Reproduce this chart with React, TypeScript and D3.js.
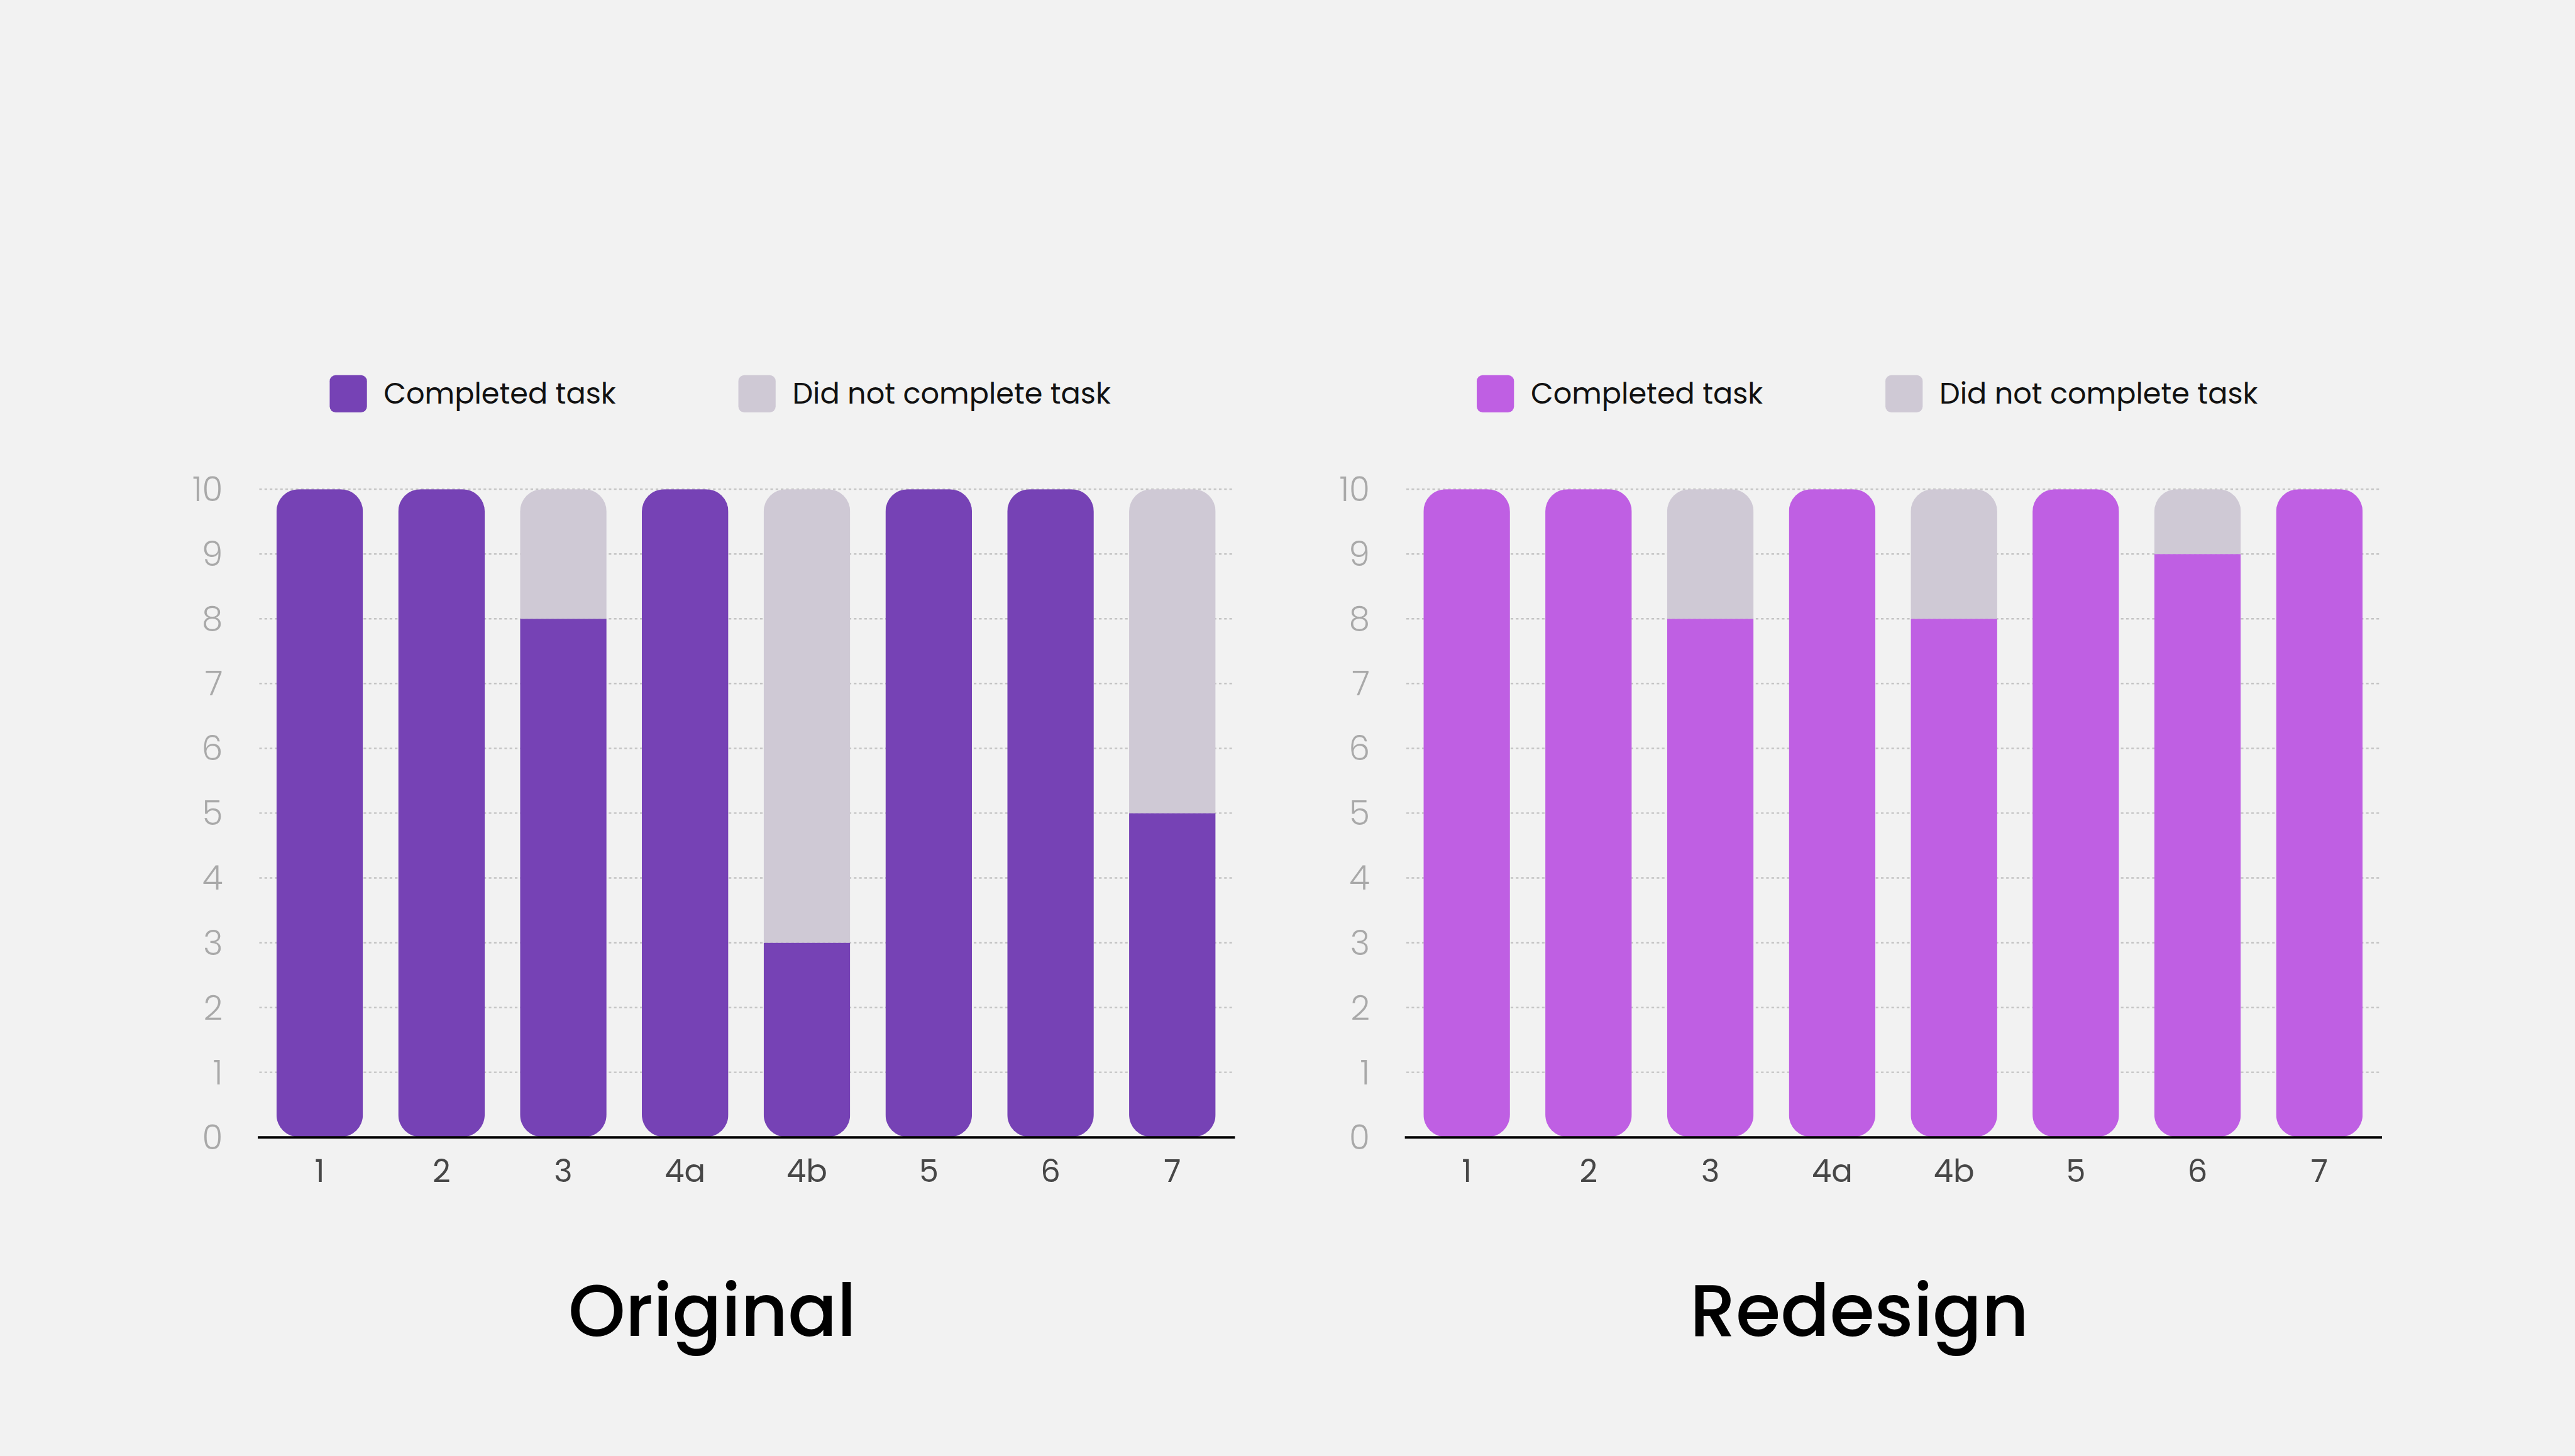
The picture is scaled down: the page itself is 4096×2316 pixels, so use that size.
import React, { useEffect, useRef } from 'react';
import * as d3 from 'd3';

const tasks = ['1', '2', '3', '4a', '4b', '5', '6', '7'];
const originalCompleted = [10, 10, 8, 10, 3, 10, 10, 5];
const originalNotCompleted = [0, 0, 2, 0, 7, 0, 0, 5];
const redesignCompleted = [10, 10, 8, 10, 8, 10, 9, 10];
const redesignNotCompleted = [0, 0, 2, 0, 2, 0, 1, 0];
const yTicks = [0, 1, 2, 3, 4, 5, 6, 7, 8, 9, 10];
const legendLabels = ['Completed task', 'Did not complete task'];

const GRAY = '#cfc9d5';
const FONT = "Poppins, 'Open Sans', sans-serif";

const panels = [
  { title: 'Original', completed: originalCompleted, notCompleted: originalNotCompleted, color: '#7642b5', left: 692 },
  { title: 'Redesign', completed: redesignCompleted, notCompleted: redesignNotCompleted, color: '#bf5fe3', left: 3771 },
];

const App = () => {
  const svgRef = useRef<SVGSVGElement>(null);

  useEffect(() => {
    renderChart();
  }, []);

  const renderChart = () => {
    const W = 6912;
    const H = 3908;
    const plotWidth = 2621;

    const svg = d3.select(svgRef.current);
    svg.selectAll('*').remove();
    svg.attr('viewBox', `0 0 ${W} ${H}`);

    svg.append('rect')
      .attr('width', W)
      .attr('height', H)
      .attr('fill', '#f2f2f2');

    const defs = svg.append('defs');

    panels.forEach((p, pi) => {
      const g = svg.append('g');

      const x = d3.scaleBand()
        .domain(tasks)
        .range([p.left, p.left + plotWidth])
        .paddingInner(0.29)
        .paddingOuter(0.153);

      const y = d3.scaleLinear()
        .domain([0, 10])
        .range([3052, 1313]);

      // dotted grid
      g.selectAll('.grid')
        .data(yTicks.filter(t => t > 0))
        .enter().append('line')
        .attr('x1', p.left + 4)
        .attr('x2', p.left + plotWidth)
        .attr('y1', d => y(d))
        .attr('y2', d => y(d))
        .attr('stroke', '#c4c4c4')
        .attr('stroke-width', 4)
        .attr('stroke-dasharray', '7 7');

      // y labels
      g.selectAll('.ylabel')
        .data(yTicks)
        .enter().append('text')
        .attr('x', p.left - 94)
        .attr('y', d => y(d))
        .attr('dy', '0.357em')
        .attr('text-anchor', 'end')
        .style('font-family', FONT)
        .style('font-size', '90px')
        .style('font-weight', 300)
        .attr('fill', '#a9a9a9')
        .text(d => d);

      // stacked bars
      const rows = tasks.map((t, i) => ({ task: t, done: p.completed[i], notDone: p.notCompleted[i] }));
      const series = d3.stack<any>().keys(['done', 'notDone'])(rows);
      const colors = [p.color, GRAY];

      rows.forEach((r, i) => {
        const total = r.done + r.notDone;
        defs.append('clipPath')
          .attr('id', `clip-${pi}-${i}`)
          .append('rect')
          .attr('x', x(r.task))
          .attr('y', y(total))
          .attr('width', x.bandwidth())
          .attr('height', y(0) - y(total))
          .attr('rx', 60);
      });

      series.forEach((s, si) => {
        g.selectAll(`.bar-${si}`)
          .data(s)
          .enter().append('rect')
          .attr('x', d => x(d.data.task))
          .attr('y', d => y(d[1]))
          .attr('width', x.bandwidth())
          .attr('height', d => y(d[0]) - y(d[1]))
          .attr('clip-path', (d, i) => `url(#clip-${pi}-${i})`)
          .attr('fill', colors[si]);
      });

      // baseline
      g.append('line')
        .attr('x1', p.left)
        .attr('x2', p.left + plotWidth + 2)
        .attr('y1', y(0) + 1)
        .attr('y2', y(0) + 1)
        .attr('stroke', '#000')
        .attr('stroke-width', 7);

      // x labels
      g.selectAll('.xlabel')
        .data(tasks)
        .enter().append('text')
        .attr('x', d => x(d) + x.bandwidth() / 2)
        .attr('y', 3172)
        .attr('text-anchor', 'middle')
        .style('font-family', FONT)
        .style('font-size', '84px')
        .attr('fill', '#474747')
        .text(d => d);

      // legend
      const legendX = [p.left + 193, p.left + 1290];
      legendLabels.forEach((label, li) => {
        g.append('rect')
          .attr('x', legendX[li])
          .attr('y', 1007)
          .attr('width', 100)
          .attr('height', 100)
          .attr('rx', 16)
          .attr('fill', colors[li]);
        g.append('text')
          .attr('x', legendX[li] + 145)
          .attr('y', 1084)
          .style('font-family', FONT)
          .style('font-size', '78px')
          .attr('fill', '#111')
          .text(label);
      });

      // title
      g.append('text')
        .attr('x', p.left + 1220)
        .attr('y', 3585)
        .attr('text-anchor', 'middle')
        .style('font-family', FONT)
        .style('font-size', '195px')
        .style('font-weight', 500)
        .attr('fill', '#000')
        .text(p.title);
    });
  };

  return (
    <svg
      ref={svgRef}
      width={4096}
      height={2316}
      style={{ position: 'absolute', left: 0, top: 0, display: 'block' }}
    />
  );
};

export default App;
